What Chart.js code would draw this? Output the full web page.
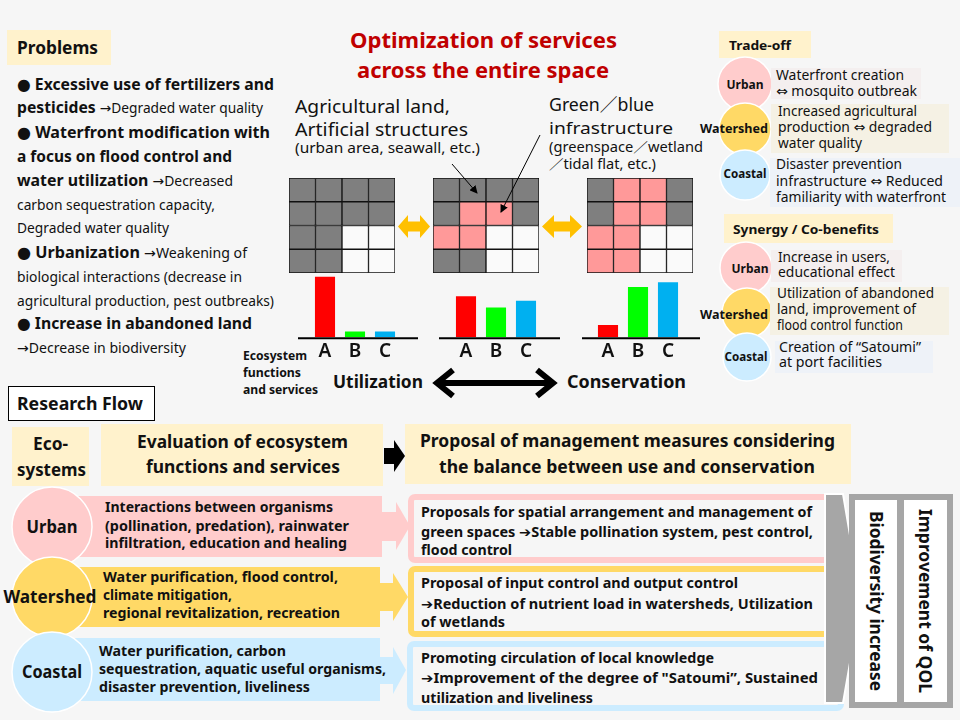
<!DOCTYPE html>
<html><head><meta charset="utf-8">
<script src="https://cdn.jsdelivr.net/npm/chart.js@4.4.1/dist/chart.umd.min.js"></script>
<style>
html,body{margin:0;padding:0;background:#F6F6F6;}
#root{position:relative;width:960px;height:720px;overflow:hidden;background:#F6F6F6;font-family:'Noto Sans',sans-serif;}
svg{position:absolute;left:0;top:0;}
canvas{position:absolute;}
text{font-family:'Noto Sans','DejaVu Sans','Noto Sans CJK JP',sans-serif;fill:#111;}
.b{font-weight:bold;}
</style></head>
<body><div id="root">
<svg id="bg" width="960" height="720">
  <!-- Problems -->
  <rect x="7" y="30" width="104" height="35" fill="#FFF2CC"/>
  <text x="17" y="54" font-size="17" class="b" textLength="81" lengthAdjust="spacingAndGlyphs">Problems</text>
  <g font-size="16">
  <text x="17" y="90" textLength="257" lengthAdjust="spacingAndGlyphs"><tspan class="b">● Excessive use of fertilizers and</tspan></text>
  <text x="17" y="113" textLength="246" lengthAdjust="spacingAndGlyphs"><tspan class="b">pesticides </tspan><tspan font-size="14">→Degraded water quality</tspan></text>
  <text x="17" y="138" textLength="253" lengthAdjust="spacingAndGlyphs"><tspan class="b">● Waterfront modification with</tspan></text>
  <text x="17" y="162" textLength="215" lengthAdjust="spacingAndGlyphs"><tspan class="b">a focus on flood control and</tspan></text>
  <text x="17" y="186" textLength="216" lengthAdjust="spacingAndGlyphs"><tspan class="b">water utilization </tspan><tspan font-size="14">→Decreased</tspan></text>
  <text x="17" y="210" font-size="14" textLength="198" lengthAdjust="spacingAndGlyphs">carbon sequestration capacity,</text>
  <text x="17" y="233" font-size="14" textLength="152" lengthAdjust="spacingAndGlyphs">Degraded water quality</text>
  <text x="17" y="258" textLength="230" lengthAdjust="spacingAndGlyphs"><tspan class="b">● Urbanization </tspan><tspan font-size="14">→Weakening of</tspan></text>
  <text x="17" y="282" font-size="14" textLength="225" lengthAdjust="spacingAndGlyphs">biological interactions (decrease in</text>
  <text x="17" y="306" font-size="14" textLength="257" lengthAdjust="spacingAndGlyphs">agricultural production,  pest outbreaks)</text>
  <text x="17" y="329" textLength="235" lengthAdjust="spacingAndGlyphs"><tspan class="b">● Increase in abandoned land</tspan></text>
  <text x="17" y="353" font-size="14" textLength="169" lengthAdjust="spacingAndGlyphs">→Decrease in biodiversity</text>
  </g>

  <!-- Title -->
  <text x="350" y="48" font-size="22" class="b" style="fill:#C00000" textLength="267" lengthAdjust="spacingAndGlyphs">Optimization of services</text>
  <text x="357" y="78" font-size="22" class="b" style="fill:#C00000" textLength="252" lengthAdjust="spacingAndGlyphs">across the entire space</text>

  <!-- grid captions -->
  <text x="295" y="113" font-size="18" textLength="155" lengthAdjust="spacingAndGlyphs">Agricultural land,</text>
  <text x="295" y="136" font-size="18" textLength="173" lengthAdjust="spacingAndGlyphs">Artificial structures</text>
  <text x="295" y="153" font-size="13.5" textLength="185" lengthAdjust="spacingAndGlyphs">(urban area, seawall, etc.)</text>
  <text x="549" y="111" font-size="18" textLength="105" lengthAdjust="spacingAndGlyphs">Green／blue</text>
  <text x="549" y="134" font-size="17" textLength="124" lengthAdjust="spacingAndGlyphs">infrastructure</text>
  <text x="549" y="152" font-size="13.5" textLength="154" lengthAdjust="spacingAndGlyphs">(greenspace／wetland</text>
  <text x="549" y="169" font-size="13.5" textLength="107" lengthAdjust="spacingAndGlyphs">／tidal flat, etc.)</text>

  <!-- orange double arrows -->
  <polygon points="398,226.5 408,215 408,221.5 420,221.5 420,215 430,226.5 420,238 420,231.5 408,231.5 408,238" fill="#FFC000"/>
  <polygon points="542,226.5 554,215 554,221.5 570,221.5 570,215 582,226.5 570,238 570,231.5 554,231.5 554,238" fill="#FFC000"/>

  <!-- axis captions -->
  <text x="243" y="360" font-size="12" class="b" textLength="64" lengthAdjust="spacingAndGlyphs">Ecosystem</text>
  <text x="243" y="377" font-size="12" class="b" textLength="58" lengthAdjust="spacingAndGlyphs">functions</text>
  <text x="243" y="394" font-size="12" class="b" textLength="75" lengthAdjust="spacingAndGlyphs">and services</text>
  <text x="333" y="388" font-size="18" class="b" textLength="90" lengthAdjust="spacingAndGlyphs">Utilization</text>
  <text x="567" y="388" font-size="18" class="b" textLength="119" lengthAdjust="spacingAndGlyphs">Conservation</text>
  <line x1="440" y1="383" x2="550" y2="383" stroke="#000" stroke-width="6"/>
  <polyline points="453,370 437,383 453,396" fill="none" stroke="#000" stroke-width="6"/>
  <polyline points="537,370 553,383 537,396" fill="none" stroke="#000" stroke-width="6"/>

  <!-- Trade-off -->
  <rect x="719" y="31" width="92" height="27" fill="#FFF2CC"/>
  <text x="729" y="50" font-size="13" class="b" textLength="62" lengthAdjust="spacingAndGlyphs">Trade-off</text>
  <circle cx="745" cy="84" r="27" fill="#FFCCCC" stroke="#fff" stroke-width="1.5"/>
  <circle cx="745" cy="129" r="26" fill="#FFD966" stroke="#fff" stroke-width="1.5"/>
  <circle cx="745" cy="175" r="25" fill="#CCECFF" stroke="#fff" stroke-width="1.5"/>
  <rect x="771" y="68" width="150" height="31" fill="#F4EFEF"/>
  <rect x="771" y="104" width="178" height="49" fill="#F5F1E4"/>
  <rect x="770" y="158" width="190" height="49" fill="#EEF2F8"/>
  <text x="745" y="89" font-size="13" class="b" text-anchor="middle" textLength="37" lengthAdjust="spacingAndGlyphs">Urban</text>
  <text x="734" y="133" font-size="13" class="b" text-anchor="middle" textLength="68" lengthAdjust="spacingAndGlyphs">Watershed</text>
  <text x="745" y="178" font-size="13" class="b" text-anchor="middle" textLength="43" lengthAdjust="spacingAndGlyphs">Coastal</text>
  <g font-size="13.5" style="fill:#222">
  <text x="776" y="80" textLength="128" lengthAdjust="spacingAndGlyphs">Waterfront creation</text>
  <text x="776" y="96" textLength="141" lengthAdjust="spacingAndGlyphs">⇔ mosquito outbreak</text>
  <text x="778" y="116" textLength="139" lengthAdjust="spacingAndGlyphs">Increased agricultural</text>
  <text x="778" y="132" textLength="154" lengthAdjust="spacingAndGlyphs">production ⇔ degraded</text>
  <text x="778" y="148" textLength="84" lengthAdjust="spacingAndGlyphs">water quality</text>
  <text x="776" y="169" textLength="126" lengthAdjust="spacingAndGlyphs">Disaster prevention</text>
  <text x="776" y="186" textLength="167" lengthAdjust="spacingAndGlyphs">infrastructure ⇔ Reduced</text>
  <text x="776" y="202" textLength="170" lengthAdjust="spacingAndGlyphs">familiarity with waterfront</text>
  </g>

  <!-- Synergy -->
  <rect x="724" y="214" width="169" height="29" fill="#FFF2CC"/>
  <text x="733" y="234" font-size="13" class="b" textLength="146" lengthAdjust="spacingAndGlyphs">Synergy / Co-benefits</text>
  <circle cx="746" cy="268" r="26" fill="#FFCCCC" stroke="#fff" stroke-width="1.5"/>
  <circle cx="747" cy="313" r="25" fill="#FFD966" stroke="#fff" stroke-width="1.5"/>
  <circle cx="747" cy="357" r="24" fill="#CCECFF" stroke="#fff" stroke-width="1.5"/>
  <rect x="771" y="250" width="131" height="32" fill="#F4EFEF"/>
  <rect x="770" y="287" width="179" height="48" fill="#F5F1E4"/>
  <rect x="775" y="341" width="158" height="32" fill="#EEF2F8"/>
  <text x="750" y="273" font-size="13" class="b" text-anchor="middle" textLength="37" lengthAdjust="spacingAndGlyphs">Urban</text>
  <text x="734" y="319" font-size="13" class="b" text-anchor="middle" textLength="68" lengthAdjust="spacingAndGlyphs">Watershed</text>
  <text x="746" y="361" font-size="13" class="b" text-anchor="middle" textLength="43" lengthAdjust="spacingAndGlyphs">Coastal</text>
  <g font-size="13.5" style="fill:#222">
  <text x="778" y="262" textLength="112" lengthAdjust="spacingAndGlyphs">Increase in users,</text>
  <text x="778" y="277" textLength="117" lengthAdjust="spacingAndGlyphs">educational effect</text>
  <text x="777" y="298" textLength="157" lengthAdjust="spacingAndGlyphs">Utilization of abandoned</text>
  <text x="777" y="314" textLength="139" lengthAdjust="spacingAndGlyphs">land, improvement of</text>
  <text x="777" y="330" textLength="126" lengthAdjust="spacingAndGlyphs">flood control function</text>
  <text x="779" y="352" textLength="142" lengthAdjust="spacingAndGlyphs">Creation of “Satoumi”</text>
  <text x="779" y="367" textLength="103" lengthAdjust="spacingAndGlyphs">at port facilities</text>
  </g>

  <!-- Research flow -->
  <rect x="8.5" y="386.5" width="146" height="34" fill="#fff" stroke="#000" stroke-width="1"/>
  <text x="17" y="410" font-size="17" class="b" textLength="126" lengthAdjust="spacingAndGlyphs">Research Flow</text>
  <rect x="12" y="427" width="77" height="59" fill="#FFF2CC"/>
  <text x="33" y="450" font-size="17" class="b" textLength="35" lengthAdjust="spacingAndGlyphs">Eco-</text>
  <text x="17" y="476" font-size="17" class="b" textLength="69" lengthAdjust="spacingAndGlyphs">systems</text>
  <rect x="101" y="424" width="282" height="62" fill="#FFF2CC"/>
  <text x="137" y="448" font-size="17" class="b" textLength="211" lengthAdjust="spacingAndGlyphs">Evaluation of ecosystem</text>
  <text x="146" y="473" font-size="17" class="b" textLength="194" lengthAdjust="spacingAndGlyphs">functions and services</text>
  <polygon points="384,448 394,448 394,440 405,456 394,472 394,464 384,464" fill="#000"/>
  <rect x="405" y="424" width="446" height="60" fill="#FFF2CC"/>
  <text x="420" y="447" font-size="17" class="b" textLength="415" lengthAdjust="spacingAndGlyphs">Proposal of management measures considering</text>
  <text x="439" y="473" font-size="17" class="b" textLength="376" lengthAdjust="spacingAndGlyphs">the balance between use and conservation</text>

  <!-- bands -->
  <polygon points="75,496 382,496 382,512 396,512 396,502 410,526 396,550 396,541 382,541 382,557 75,557" fill="#FFCCCC"/>
  <polygon points="75,567 380,567 380,583 393,583 393,573 408,597 393,621 393,611 380,611 380,627 75,627" fill="#FFD966"/>
  <polygon points="75,638 380,638 380,657 393,657 393,647 406,670 393,694 393,684 380,684 380,701 75,701" fill="#CCECFF"/>
  <circle cx="52" cy="527" r="40" fill="#FFCCCC" stroke="#fff" stroke-width="1.5"/>
  <circle cx="52" cy="597" r="40" fill="#FFD966" stroke="#fff" stroke-width="1.5"/>
  <circle cx="52" cy="672" r="40" fill="#CCECFF" stroke="#fff" stroke-width="1.5"/>
  <text x="52" y="533" font-size="18" class="b" text-anchor="middle" textLength="51" lengthAdjust="spacingAndGlyphs">Urban</text>
  <text x="50" y="603" font-size="18" class="b" text-anchor="middle" textLength="93" lengthAdjust="spacingAndGlyphs">Watershed</text>
  <text x="52" y="678" font-size="18" class="b" text-anchor="middle" textLength="60" lengthAdjust="spacingAndGlyphs">Coastal</text>
  <g font-size="14" class="b">
  <text x="105" y="512" textLength="228" lengthAdjust="spacingAndGlyphs">Interactions between organisms</text>
  <text x="105" y="531" textLength="244" lengthAdjust="spacingAndGlyphs">(pollination,  predation), rainwater</text>
  <text x="105" y="548" textLength="242" lengthAdjust="spacingAndGlyphs">infiltration, education and healing</text>
  <text x="103" y="582" textLength="235" lengthAdjust="spacingAndGlyphs">Water purification, flood control,</text>
  <text x="103" y="600" textLength="129" lengthAdjust="spacingAndGlyphs">climate mitigation,</text>
  <text x="103" y="618" textLength="237" lengthAdjust="spacingAndGlyphs">regional revitalization, recreation</text>
  <text x="99" y="656" textLength="187" lengthAdjust="spacingAndGlyphs">Water purification,  carbon</text>
  <text x="99" y="674" textLength="287" lengthAdjust="spacingAndGlyphs">sequestration, aquatic useful organisms,</text>
  <text x="99" y="692" textLength="211" lengthAdjust="spacingAndGlyphs">disaster prevention, liveliness</text>
  </g>

  <!-- proposal boxes -->
  <rect x="411" y="497" width="430" height="63" rx="4" fill="#F6F6F6" stroke="#FFCCCC" stroke-width="6"/>
  <rect x="411" y="569" width="430" height="65" rx="4" fill="#F6F6F6" stroke="#FFD966" stroke-width="6"/>
  <rect x="410" y="644" width="431" height="64" rx="4" fill="#F6F6F6" stroke="#CCECFF" stroke-width="6"/>
  <g font-size="14" class="b">
  <text x="421" y="517" textLength="391" lengthAdjust="spacingAndGlyphs">Proposals  for spatial  arrangement  and  management  of</text>
  <text x="421" y="537" textLength="392" lengthAdjust="spacingAndGlyphs">green spaces ➔Stable pollination  system, pest control,</text>
  <text x="421" y="555" textLength="91" lengthAdjust="spacingAndGlyphs">flood control</text>
  <text x="421" y="588" textLength="317" lengthAdjust="spacingAndGlyphs">Proposal of input control and output control</text>
  <text x="421" y="609" textLength="392" lengthAdjust="spacingAndGlyphs">➔Reduction of nutrient load in watersheds, Utilization</text>
  <text x="421" y="627" textLength="84" lengthAdjust="spacingAndGlyphs">of wetlands</text>
  <text x="421" y="663" textLength="293" lengthAdjust="spacingAndGlyphs">Promoting circulation of local knowledge</text>
  <text x="421" y="683" textLength="397" lengthAdjust="spacingAndGlyphs">➔Improvement of the degree of "Satoumi”,  Sustained</text>
  <text x="421" y="703" textLength="172" lengthAdjust="spacingAndGlyphs">utilization and liveliness</text>
  </g>

  <!-- chevron and outcome frame -->
  <polygon points="825,494 843,494 861,600 843,703 825,703" fill="#A6A6A6" stroke="#fff" stroke-width="2"/>
  <rect x="849" y="494" width="104" height="214" fill="#A6A6A6"/>
  <rect x="855" y="500" width="42" height="202" fill="#fff"/>
  <rect x="904" y="500" width="43" height="202" fill="#fff"/>
  <text x="876" y="607" font-size="17" class="b" text-anchor="middle" transform="rotate(90 876 601)" textLength="180" lengthAdjust="spacingAndGlyphs">Biodiversity increase</text>
  <text x="925" y="607" font-size="17" class="b" text-anchor="middle" transform="rotate(90 925 601)" textLength="184" lengthAdjust="spacingAndGlyphs">Improvement of QOL</text>
</svg>

<canvas id="g1" width="106" height="95" style="left:289px;top:178px"></canvas>
<canvas id="g2" width="106" height="95" style="left:433px;top:178px"></canvas>
<canvas id="g3" width="106" height="95" style="left:587px;top:178px"></canvas>
<canvas id="b1" width="120" height="108" style="left:298px;top:262px"></canvas>
<canvas id="b2" width="121" height="108" style="left:439px;top:262px"></canvas>
<canvas id="b3" width="118" height="108" style="left:582px;top:262px"></canvas>

<svg id="fg" width="960" height="720" style="pointer-events:none">
  <defs><marker id="ah" markerWidth="8" markerHeight="8" refX="7" refY="4" orient="auto" markerUnits="userSpaceOnUse">
    <path d="M0,0 L8,4 L0,8 z" fill="#000"/></marker></defs>
  <line x1="452" y1="164" x2="477" y2="193" stroke="#000" stroke-width="1" marker-end="url(#ah)"/>
  <line x1="540" y1="135" x2="501" y2="212" stroke="#000" stroke-width="1" marker-end="url(#ah)"/>
</svg>
</div>
<script>
// ---- data ----
const services = ['A', 'B', 'C'];
const utilizationValues = [65, 6, 6];
const balancedValues = [44, 32, 39];
const conservationValues = [13, 54, 59];
const serviceColors = ['#FF0000', '#00FF00', '#00B0F0'];

const gridColumns = ['c1', 'c2', 'c3', 'c4'];
const cellUnits = [1, 1, 1, 1];
// rows listed top to bottom; G = artificial/agricultural, P = green/blue, W = other
const gridUtilization = [['G','G','G','G'],['G','G','G','G'],['G','G','W','W'],['G','G','W','W']];
const gridBalanced    = [['G','G','G','G'],['G','P','P','G'],['P','P','W','W'],['G','G','W','W']];
const gridConservation= [['G','P','P','G'],['G','P','P','G'],['P','P','W','W'],['P','P','W','W']];
const cellColors = { G: '#7F7F7F', P: '#FF9999', W: '#FAFAFA' };

Chart.defaults.font.family = "'Noto Sans', sans-serif";

function gridChart(id, cells) {
  const rows = cells.slice().reverse();
  new Chart(document.getElementById(id), {
    type: 'bar',
    data: {
      labels: gridColumns,
      datasets: rows.map(r => ({
        data: cellUnits,
        backgroundColor: r.map(k => cellColors[k]),
        borderColor: '#111', borderWidth: 1, borderSkipped: false,
        barPercentage: 1, categoryPercentage: 1
      }))
    },
    options: {
      responsive: false, animation: false, layout: { padding: 0 },
      plugins: { legend: { display: false }, tooltip: { enabled: false } },
      scales: { x: { stacked: true, display: false }, y: { stacked: true, display: false, min: 0, max: 4 } }
    }
  });
}

const baseline = {
  id: 'baseline',
  afterDatasetsDraw(chart) {
    const ctx = chart.ctx, y = chart.scales.y.getPixelForValue(0);
    ctx.save(); ctx.strokeStyle = '#000'; ctx.lineWidth = 2;
    ctx.beginPath(); ctx.moveTo(0, y + 1); ctx.lineTo(chart.width, y + 1); ctx.stroke(); ctx.restore();
  }
};

function barChart(id, values, padL, padR) {
  new Chart(document.getElementById(id), {
    type: 'bar',
    data: { labels: services, datasets: [{ data: values, backgroundColor: serviceColors, barPercentage: 0.67, categoryPercentage: 1 }] },
    options: {
      responsive: false, animation: false,
      layout: { padding: { left: padL, right: padR, top: 10, bottom: 4 } },
      plugins: { legend: { display: false }, tooltip: { enabled: false } },
      scales: {
        x: { grid: { display: false, drawTicks: false }, border: { display: false },
             ticks: { color: '#111', padding: 3, font: { size: 19, weight: '600' } } },
        y: { display: false, min: 0, max: 70 }
      }
    },
    plugins: [baseline]
  });
}

gridChart('g1', gridUtilization);
gridChart('g2', gridBalanced);
gridChart('g3', gridConservation);
barChart('b1', utilizationValues, 12, 18);
barChart('b2', balancedValues, 12, 19);
barChart('b3', conservationValues, 11, 17);
</script>
</body></html>
